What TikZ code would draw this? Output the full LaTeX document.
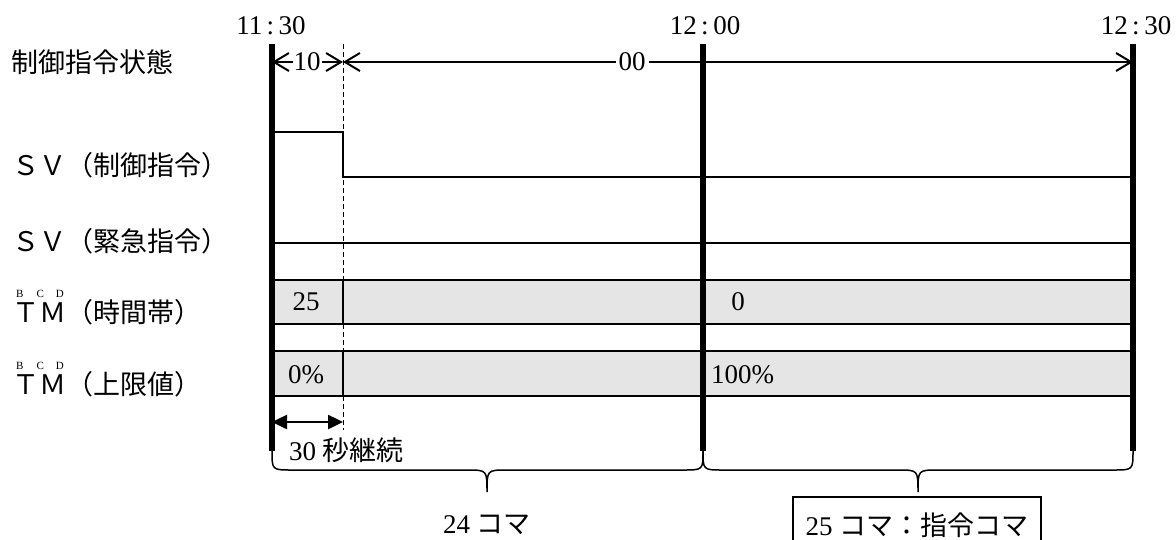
\documentclass[tikz,border=0pt]{standalone}
\usepackage{fontspec}
\newfontfamily\jpfam{Noto Sans CJK JP}
\newfontfamily\serfam{Liberation Serif}
\usetikzlibrary{arrows.meta}
\newcommand\jfont{\jpfam\fontsize{27}{30}\selectfont}
\newcommand\rfont{\serfam\fontsize{27}{30}\selectfont}
\definecolor{boxgray}{RGB}{229,229,229}
\begin{document}
\begin{tikzpicture}[x=1pt,y=-1pt,
  jlbl/.style={inner sep=0pt,anchor=west,font=\jfont},
  rlbl/.style={inner sep=0pt,font=\rfont},
  smalllbl/.style={inner sep=0pt,anchor=west,font=\serfam\fontsize{11}{11}\selectfont},
  thin/.style={line width=2pt},
  barline/.style={line width=6pt},
  rowbox/.style={line width=2.5pt,fill=boxgray},
  openarr/.style={line width=2pt,{Straight Barb[length=15pt,width=18pt,line width=2pt]}-{Straight Barb[length=15pt,width=18pt,line width=2pt]}},
  solidarr/.style={line width=2.5pt,{Triangle[length=15pt,width=14pt]}-{Triangle[length=15pt,width=14pt]}},
  bracestyle/.style={line width=1.5pt}]
\useasboundingbox (0,0) rectangle (1176,539);
\clip (0,0) rectangle (1176,539);

% time coordinates
\coordinate (t0top) at (272,44);  \coordinate (t0bot) at (272,451);
\coordinate (t1top) at (703,44);  \coordinate (t1bot) at (703,451);
\coordinate (t2top) at (1133,44); \coordinate (t2bot) at (1133,451);
\coordinate (dtop) at (343,44);   \coordinate (dbot) at (343,430);

% time labels
\node[rlbl] (h0) at (271,26) {11\,:\,30};
\node[rlbl] (h1) at (705,26) {12\,:\,00};
\node[rlbl] (h2) at (1136,26) {12\,:\,30};

% left labels
\node[jlbl] (l1) at (11,62) {制御指令状態};
\node[jlbl] (l2) at (12,165) {ＳＶ（制御指令）};
\node[jlbl] (l3) at (12,241) {ＳＶ（緊急指令）};
\node[jlbl] (l4) at (12,312) {ＴＭ（時間帯）};
\node[smalllbl] (l4b) at (16,294) {B\hspace{13pt}C\hspace{12pt}D};
\node[jlbl] (l5) at (12,384) {ＴＭ（上限値）};
\node[smalllbl] (l5b) at (16,366) {B\hspace{13pt}C\hspace{12pt}D};

% dashed boundary
\draw[line width=1pt,dash pattern=on 5pt off 3pt] (dtop) -- (dbot);

% rows
\draw[thin] (272,132) -- (343,132) -- (343,177) -- (1133,177);
\draw[thin] (272,243) -- (1133,243);
\draw[rowbox] (272,280) rectangle (1133,324);
\draw[line width=2.5pt] (343,280) -- (343,324);
\draw[rowbox] (272,351) rectangle (1133,396);
\draw[line width=2.5pt] (343,351) -- (343,396);

\node[rlbl] (v1) at (306,302) {25};
\node[rlbl] (v2) at (738,302) {0};
\node[rlbl] (v3) at (306,375) {0\%};
\node[rlbl,anchor=west] (v4) at (711,375) {100\%};

% top state arrows
\coordinate (a0) at (272,62);
\coordinate (a1) at (343,62);
\coordinate (a2) at (1133,62);
\draw[openarr] (a0) -- (a1);
\draw[openarr] (a1) -- (a2);
\node[rlbl,fill=white,inner sep=1pt] (s10) at (307,62) {10};
\node[rlbl,fill=white,inner xsep=3pt,inner ysep=1pt] (s00) at (632,62) {00};

% thick time lines
\draw[barline] (t0top) -- (t0bot);
\draw[barline] (t1top) -- (t1bot);
\draw[barline] (t2top) -- (t2bot);

% 30 s arrow
\coordinate (b0) at (272,422);
\coordinate (b1) at (343,422);
\draw[solidarr] (b0) -- (b1);
\node[inner sep=0pt,anchor=west] (c30) at (289,450) {\rfont 30 \jfont 秒継続};

% braces
\coordinate (br1) at (487,492);
\coordinate (br2) at (918,492);
\draw[bracestyle] (t0bot) .. controls (272,470) .. (292,470) -- (467,470)
  .. controls (487,470) .. (br1) .. controls (487,470) .. (507,470) -- (683,470)
  .. controls (703,470) .. (t1bot);
\draw[bracestyle] (t1bot) .. controls (703,470) .. (723,470) -- (898,470)
  .. controls (918,470) .. (br2) .. controls (918,470) .. (938,470) -- (1113,470)
  .. controls (1133,470) .. (t2bot);

\node[inner sep=0pt] (k24) at (487,525) {\rfont 24 \jfont コマ};
\node[draw,line width=1.5pt,minimum width=248pt,minimum height=56pt,inner sep=0pt] (k25) at (917,525) {\rfont 25 \jfont コマ：指令コマ};
\end{tikzpicture}
\end{document}
